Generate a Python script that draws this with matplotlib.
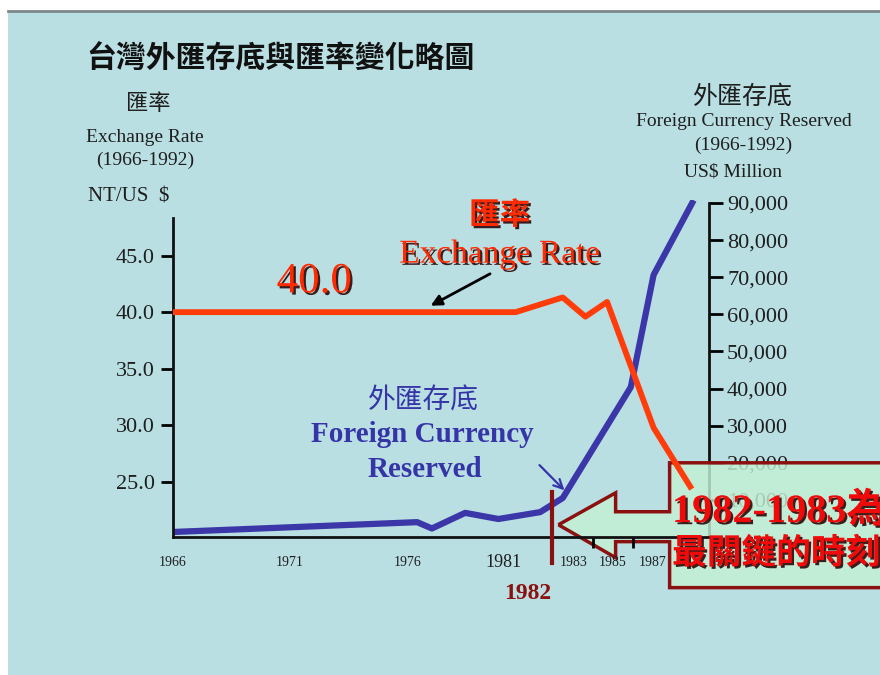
import numpy as np
import matplotlib
matplotlib.use("Agg")
import matplotlib.pyplot as plt
import matplotlib.patheffects as pe
import matplotlib.transforms as mtransforms
from matplotlib.patches import Polygon, Rectangle
from matplotlib.lines import Line2D

# ── data ──────────────────────────────────────────────────────────────────────
rate_years  = [1966, 1980.4, 1982.5, 1983.6, 1984.7, 1987.05, 1988.9]
rate_values = [40.0, 40.0, 41.3, 39.6, 40.9, 29.8, 24.6]          # NT$ per US$

reserve_years  = [1966, 1976.4, 1977.0, 1978.35, 1979.7, 1981.45, 1982.5, 1985.9, 1987.05, 1989.0]
reserve_values = [1350, 4000, 2300, 6500, 4850, 6700, 10500, 40400, 70600, 90000]  # US$ million

year_labels   = [1966, 1971, 1976, 1981, 1983, 1985, 1987]
year_marks    = [1971, 1976, 1981, 1983, 1984, 1985, 1986, 1987]
rate_ticks    = [25, 30, 35, 40, 45]
reserve_ticks = [10000, 20000, 30000, 40000, 50000, 60000, 70000, 80000, 90000]
KEY_YEAR = 1982

# the slide's year axis is hand-drawn: the later years are squeezed together
KNOT_YEARS = [1950, 1966, 1971, 1976, 1981, 1983, 1987, 2000]
KNOT_POS   = [-374, 0, 117, 234, 357, 400, 479, 736]

# ── style ─────────────────────────────────────────────────────────────────────
CJK   = "Noto Sans CJK TC"
SERIF = "Liberation Serif"
plt.rcParams["font.family"] = [SERIF, CJK, "DejaVu Sans"]

BG       = "#b9dfe3"
ORANGE   = "#ff3c0a"
RED_TXT  = "#ff2a00"
BLUE     = "#3b37a8"
BLUE_TXT = "#3535a8"
DARKRED  = "#8b1010"
INK      = "#1e1e1e"
SHADOW   = [pe.withSimplePatchShadow(offset=(1.6, -1.6), shadow_rgbFace="#2a0808", alpha=0.9)]

W, H = 880, 675
fig = plt.figure(figsize=(W / 100, H / 100), dpi=100, facecolor="white")


def fx(px):
    return px / W


def fy(py):
    return 1 - py / H


def year_fwd(x):
    return np.interp(x, KNOT_YEARS, KNOT_POS)


def year_inv(x):
    return np.interp(x, KNOT_POS, KNOT_YEARS)


# slide background + thin grey rule on top
fig.add_artist(Rectangle((fx(8), 0), 1, fy(12), transform=fig.transFigure,
                         facecolor=BG, edgecolor="none", zorder=-5))
fig.add_artist(Line2D([fx(8), 1], [fy(11), fy(11)], transform=fig.transFigure,
                      color="#7d8789", lw=2, zorder=-4))

# ── axes ──────────────────────────────────────────────────────────────────────
ax = fig.add_axes([fx(173), fy(537), fx(709) - fx(173), fy(200) - fy(537)])
ax2 = ax.twinx()
ax.set_zorder(ax2.get_zorder() + 1)
ax.patch.set_visible(False)
ax2.patch.set_visible(False)

ax.set_xscale("function", functions=(year_fwd, year_inv))
ax.set_xlim(1966, 1989.85)
ax.set_ylim(20.15, 49.9)
ax2.set_ylim(0, 90800)

ax.plot(rate_years, rate_values, color=ORANGE, lw=4.2, zorder=3)
ax2.plot(reserve_years, reserve_values, color=BLUE, lw=4.5, zorder=3)

for s in ["top", "right"]:
    ax.spines[s].set_visible(False)
for s in ["top", "left", "bottom"]:
    ax2.spines[s].set_visible(False)
ax.spines["left"].set_bounds(20.15, 48.3)
ax2.spines["right"].set_bounds(0, 90000)
for sp in [ax.spines["left"], ax.spines["bottom"], ax2.spines["right"]]:
    sp.set_linewidth(2)
    sp.set_color("#111111")

# x ticks: labels on majors, marks on minors
ax.set_xticks(year_labels)
ax.set_xticklabels([str(y) for y in year_labels])
ax.set_xticks(year_marks, minor=True)
ax.xaxis.set_minor_formatter(plt.NullFormatter())
ax.tick_params(axis="x", which="major", length=0, pad=14, labelsize=10, labelcolor=INK)
ax.tick_params(axis="x", which="minor", length=8, width=2, direction="out")
# on the slide the 1981 label is larger and sits left of its tick
for tick in ax.xaxis.get_major_ticks():
    if tick.label1.get_text() == "1981":
        tick.label1.set_fontsize(13)
        shift = mtransforms.ScaledTranslation(-0.27, 0.02, fig.dpi_scale_trans)
        tick.label1.set_transform(tick.label1.get_transform() + shift)

ax.set_yticks(rate_ticks)
ax.set_yticklabels([f"{v:.1f}" for v in rate_ticks])
ax.tick_params(axis="y", length=9, width=2, pad=4, labelsize=16, labelcolor=INK)

ax2.set_yticks(reserve_ticks)
ax2.set_yticklabels([f"{v:,}" for v in reserve_ticks])
ax2.tick_params(axis="y", length=10, width=2, pad=3, labelsize=16, labelcolor=INK)

# ── annotations inside the plot ──────────────────────────────────────────────
ax.text(1972.03, 42.65, "40.0", fontsize=31, color=RED_TXT, ha="center", va="center",
        path_effects=SHADOW, zorder=6)
ax.text(1979.75, 48.55, "匯率", family=CJK, fontsize=22, weight="bold", color=RED_TXT,
        ha="center", va="center", path_effects=SHADOW, zorder=6)
ax.text(1979.75, 45.1, "Exchange Rate", fontsize=24, color=RED_TXT, ha="center",
        va="center", path_effects=SHADOW, zorder=6)
ax.annotate("", xy=(1976.85, 40.45), xytext=(1979.46, 43.5), zorder=6,
            arrowprops=dict(arrowstyle="-|>", color="black", lw=2, mutation_scale=16))

ax.text(1976.65, 32.2, "外匯存底", family=CJK, fontsize=20, color=BLUE_TXT,
        ha="center", va="center", zorder=6)
ax.text(1976.59, 29.2, "Foreign Currency", fontsize=21, weight="bold", color=BLUE_TXT,
        ha="center", va="center", zorder=6)
ax.text(1976.73, 26.1, "Reserved", fontsize=21, weight="bold", color=BLUE_TXT,
        ha="center", va="center", zorder=6)
ax.annotate("", xy=(1982.67, 24.1), xytext=(1981.33, 26.67), zorder=6,
            arrowprops=dict(arrowstyle="->", color=BLUE_TXT, lw=1.6, mutation_scale=16))

# key-year marker
ax.plot([KEY_YEAR, KEY_YEAR], [17.85, 24.1], color=DARKRED, lw=3, clip_on=False, zorder=7)
ax.text(KEY_YEAR - 1.12, 15.2, str(KEY_YEAR), fontsize=17, weight="bold", color=DARKRED,
        ha="center", va="center", clip_on=False)

# call-out arrow box pointing at 1982
callout = [(1982.3, 21.23), (1985.13, 24.05), (1985.13, 22.38), (1987.86, 22.38),
           (1987.86, 26.7), (1999, 26.7), (1999, 15.68), (1987.86, 15.68),
           (1987.86, 19.74), (1985.13, 19.74), (1985.13, 18.33)]
ax.add_patch(Polygon(callout, closed=True, facecolor="#c4f0d4", alpha=0.82,
                     edgecolor="none", clip_on=False, zorder=1))
ax.add_patch(Polygon(callout, closed=True, facecolor="none", edgecolor=DARKRED,
                     lw=2.5, clip_on=False, zorder=1.1))

# ── slide texts ───────────────────────────────────────────────────────────────
fig.text(fx(86), fy(58), "台灣外匯存底與匯率變化略圖", family=CJK, fontsize=21.5,
         weight="bold", color="#111111", ha="left", va="center")

fig.text(fx(148), fy(104), "匯率", family=CJK, fontsize=16, color=INK, ha="center", va="center")
fig.text(fx(145), fy(137), "Exchange Rate", fontsize=14, color=INK, ha="center", va="center")
fig.text(fx(145), fy(160), "(1966-1992)", fontsize=14, color=INK, ha="center", va="center")
fig.text(fx(88), fy(197), "NT/US  $", fontsize=15, color=INK, ha="left", va="center")

fig.text(fx(742), fy(97), "外匯存底", family=CJK, fontsize=18, color=INK, ha="center", va="center")
fig.text(fx(744), fy(122), "Foreign Currency Reserved", fontsize=14, color=INK,
         ha="center", va="center")
fig.text(fx(743), fy(145), "(1966-1992)", fontsize=14, color=INK, ha="center", va="center")
fig.text(fx(733), fy(172), "US$ Million", fontsize=14, color=INK, ha="center", va="center")

fig.text(fx(672), fy(512), "1982-1983為", family=[SERIF, CJK], fontsize=29, weight="bold",
         color="#f00a0a", ha="left", va="center", path_effects=SHADOW)
fig.text(fx(672), fy(553), "最關鍵的時刻", family=CJK, fontsize=25, weight="bold",
         color="#f00a0a", ha="left", va="center", path_effects=SHADOW)

fig.savefig("out.png", dpi=100, facecolor=fig.get_facecolor())
